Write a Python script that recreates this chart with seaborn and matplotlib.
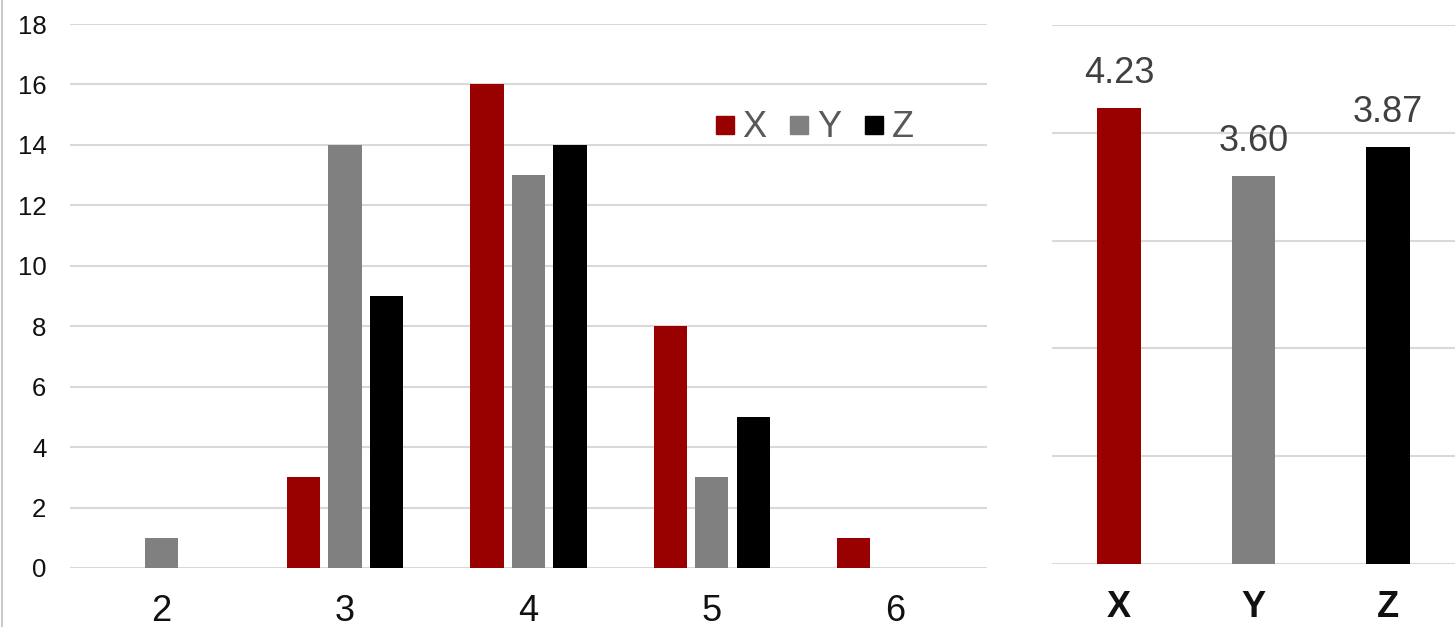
import matplotlib
matplotlib.use("Agg")
import matplotlib.pyplot as plt
from matplotlib.lines import Line2D
import seaborn as sns
import pandas as pd

# Score distribution per group
scores = ["2", "3", "4", "5", "6"]
counts_x = [0, 3, 16, 8, 1]
counts_y = [1, 14, 13, 3, 0]
counts_z = [0, 9, 14, 5, 0]

# Mean score per group
groups = ["X", "Y", "Z"]
means = [4.23, 3.60, 3.87]

colors = {"X": "#990000", "Y": "#808080", "Z": "#000000"}

sns.set_theme(style="white")
plt.rcParams["font.family"] = ["Liberation Sans", "DejaVu Sans"]

dist = pd.DataFrame({
    "score": scores * 3,
    "count": counts_x + counts_y + counts_z,
    "group": ["X"] * 5 + ["Y"] * 5 + ["Z"] * 5,
})
avg = pd.DataFrame({"group": groups, "mean": means})

fig = plt.figure(figsize=(14.55, 6.27), dpi=100)
ax1 = fig.add_axes([0.0481, 0.0941, 0.6302, 0.8676])
ax2 = fig.add_axes([0.7230, 0.1005, 0.2770, 0.8596])

grid_color = "#d9d9d9"

# Left: grouped distribution
sns.barplot(data=dist, x="score", y="count", hue="group", palette=colors,
            width=0.68, gap=0.2, ax=ax1, legend=False, saturation=1,
            linewidth=0)
ax1.set_xlim(-0.5, 4.5)
ax1.set_ylim(0, 18)
ax1.set_yticks(range(0, 19, 2))
ax1.yaxis.grid(True, color=grid_color, linewidth=1.5)
ax1.set_axisbelow(True)
ax1.set_xlabel("")
ax1.set_ylabel("")
ax1.tick_params(axis="y", length=0, pad=17, labelsize=18.5, labelcolor="#111111")
ax1.tick_params(axis="x", length=0, pad=19, labelsize=26, labelcolor="#111111")
for s in ax1.spines.values():
    s.set_visible(False)

handles = [Line2D([], [], linestyle="none", marker="s", markersize=13,
                  markerfacecolor=colors[g], markeredgecolor=colors[g]) for g in groups]
ax1.legend(handles, groups, loc="center left", bbox_to_anchor=(0.702, 0.809),
           ncol=3, frameon=False, fontsize=26, labelcolor="#595959",
           handletextpad=0.2, columnspacing=0.6, handlelength=0.6,
           borderpad=0, borderaxespad=0)

# Right: mean per group
sns.barplot(data=avg, x="group", y="mean", hue="group", palette=colors,
            width=0.325, ax=ax2, legend=False, saturation=1, linewidth=0)
ax2.set_xlim(-0.5, 2.5)
ax2.set_ylim(0, 5)
ax2.set_yticks(range(0, 6))
ax2.set_yticklabels([])
ax2.yaxis.grid(True, color=grid_color, linewidth=1.5)
ax2.set_axisbelow(True)
ax2.set_xlabel("")
ax2.set_ylabel("")
ax2.tick_params(axis="y", length=0)
ax2.tick_params(axis="x", length=0, pad=19, labelsize=26, labelcolor="#111111")
for lbl in ax2.get_xticklabels():
    lbl.set_fontweight("bold")
for s in ax2.spines.values():
    s.set_visible(False)
for cont in ax2.containers:
    ax2.bar_label(cont, fmt="%.2f", padding=12, fontsize=26, color="#404040")

# Thin frame line on the left edge
fig.add_artist(Line2D([0.0015, 0.0015], [0, 1], transform=fig.transFigure,
                      color="#bfbfbf", linewidth=1.2))

fig.savefig("out.png", dpi=100, facecolor="white")
